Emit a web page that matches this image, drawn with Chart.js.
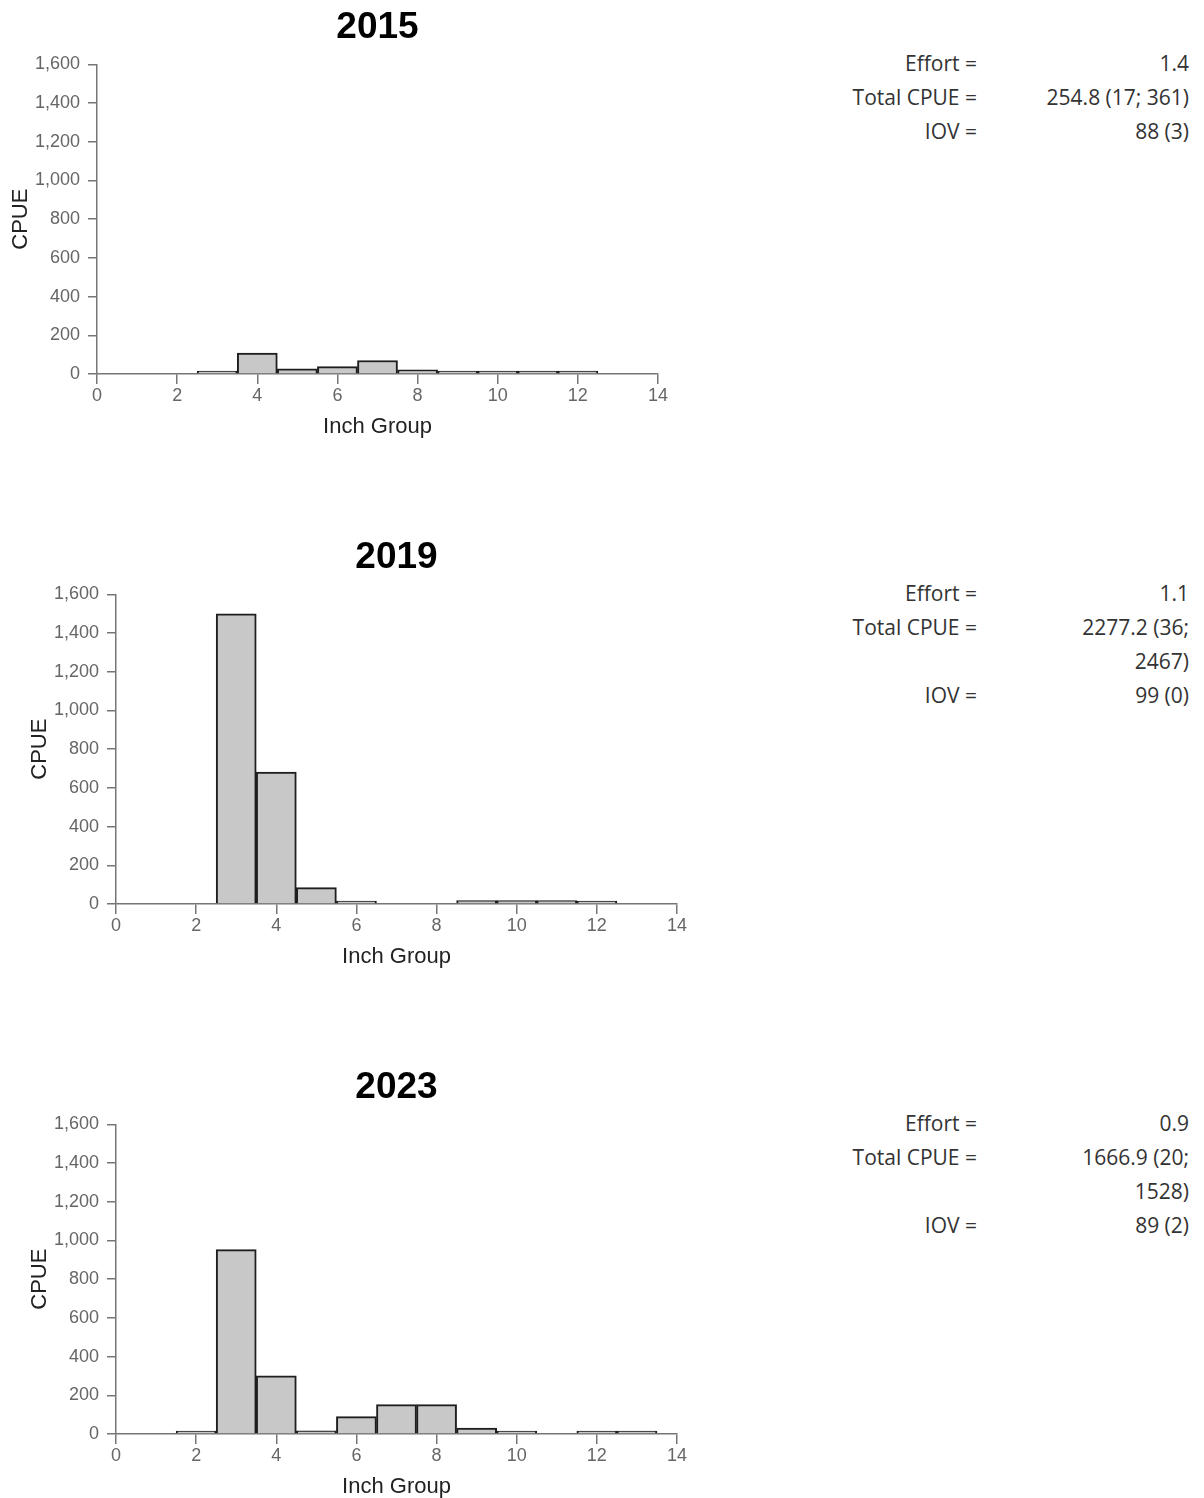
<!DOCTYPE html>
<html>
<head>
<meta charset="utf-8">
<title>CPUE by Inch Group</title>
<script src="https://cdn.jsdelivr.net/npm/chart.js@4.4.1/dist/chart.umd.min.js"></script>
<style>
  html, body { margin: 0; padding: 0; background: #fff; }
  body { position: relative; width: 1204px; height: 1498px; overflow: hidden; }
  .panel { position: absolute; width: 700px; height: 458px; }
  .panel canvas { display: block; }
  .stats {
    position: absolute; left: 820px; width: 369px;
    display: grid; grid-template-columns: 157px 212px;
    font-family: "Open Sans", "Noto Sans", sans-serif; font-size: 21px;
    line-height: 34px; color: #333;
  }
  .stats .k { text-align: right; white-space: nowrap; }
  .stats .v { text-align: right; justify-self: end; max-width: 160px; }
</style>
</head>
<body>
<script>
// Survey years
const years = ['2015', '2019', '2023'];

// Inch groups and CPUE per year
const inch2015 = [3, 4, 5, 6, 7, 8, 9, 10, 11, 12];
const cpue2015 = [5, 108, 27, 38, 70, 22, 3, 5, 5, 3];

const inch2019 = [3, 4, 5, 6, 9, 10, 11, 12];
const cpue2019 = [1500, 682, 85, 8, 18, 18, 18, 8];

const inch2023 = [2, 3, 4, 5, 6, 7, 8, 9, 10, 12, 13];
const cpue2023 = [8, 953, 300, 17, 90, 152, 152, 30, 8, 8, 8];

// Summary statistics per year
const effortText = ['1.4', '1.1', '0.9'];
const totalCpueText = ['254.8 (17; 361)', '2277.2 (36; 2467)', '1666.9 (20; 1528)'];
const iovText = ['88 (3)', '99 (0)', '89 (2)'];

// Axis settings
const xMin = 0, xMax = 14, xStep = 2;
const yMin = 0, yMax = 1600, yStep = 200;

const inchByYear = [inch2015, inch2019, inch2023];
const cpueByYear = [cpue2015, cpue2019, cpue2023];

const PANEL_GAP = 530;
const CANVAS_W = 700, CANVAS_H = 458;
const PAD_LEFT = 10;
const Y_AXIS_WIDTH = 106;
const FONT = '"Liberation Sans", Arial, sans-serif';
const AXIS_GREY = '#767676';

years.forEach((year, i) => {
  const top = i * PANEL_GAP - 10;
  const left = i === 0 ? -19 : 0;

  const wrap = document.createElement('div');
  wrap.className = 'panel';
  wrap.style.top = top + 'px';
  wrap.style.left = left + 'px';
  const canvas = document.createElement('canvas');
  canvas.width = CANVAS_W;
  canvas.height = CANVAS_H;
  canvas.style.width = CANVAS_W + 'px';
  canvas.style.height = CANVAS_H + 'px';
  wrap.appendChild(canvas);
  document.body.appendChild(wrap);

  const points = inchByYear[i].map((x, j) => ({ x: x, y: cpueByYear[i][j] }));

  new Chart(canvas, {
    type: 'bar',
    data: {
      datasets: [{
        data: points,
        backgroundColor: '#c8c8c8',
        borderColor: '#1e1e1e',
        borderWidth: 2,
        borderSkipped: 'start',
        minBarLength: 3,
        barPercentage: 1,
        categoryPercentage: 1
      }]
    },
    options: {
      responsive: false,
      maintainAspectRatio: false,
      animation: false,
      devicePixelRatio: 1,
      layout: { padding: { top: 0, left: PAD_LEFT, right: 23, bottom: 4 } },
      plugins: {
        legend: { display: false },
        tooltip: { enabled: false },
        title: {
          display: true,
          text: year,
          fullSize: false,
          color: '#000',
          font: { family: FONT, size: 37, weight: 'bold', lineHeight: 1.2 },
          padding: { top: 16, bottom: 14 }
        }
      },
      scales: {
        x: {
          type: 'linear',
          min: xMin, max: xMax,
          offset: false,
          ticks: { stepSize: xStep, color: '#666', font: { family: FONT, size: 18 }, padding: 1, maxRotation: 0 },
          grid: { display: true, offset: false, drawOnChartArea: false, drawTicks: true, tickLength: 10, color: AXIS_GREY, lineWidth: 1.5 },
          border: { display: true, color: AXIS_GREY, width: 1.5 },
          title: { display: true, text: 'Inch Group', color: '#222', font: { family: FONT, size: 22, lineHeight: 1.2 }, padding: { top: 6, bottom: 4 } }
        },
        y: {
          min: yMin, max: yMax,
          afterFit: (scale) => { scale.width = Y_AXIS_WIDTH; },
          ticks: { stepSize: yStep, color: '#666', font: { family: FONT, size: 18 }, padding: 8 },
          grid: { display: true, drawOnChartArea: false, drawTicks: true, tickLength: 9, color: AXIS_GREY, lineWidth: 1.5 },
          border: { display: true, color: AXIS_GREY, width: 1.5 },
          title: { display: true, text: 'CPUE', color: '#222', font: { family: FONT, size: 22, lineHeight: 1.2 }, padding: { top: 17, bottom: 0 } }
        }
      }
    }
  });

  // Summary block to the right of each panel
  const stats = document.createElement('div');
  stats.className = 'stats';
  stats.style.top = (i * PANEL_GAP + 46) + 'px';
  const rows = [
    ['Effort =', effortText[i]],
    ['Total CPUE =', totalCpueText[i]],
    ['IOV =', iovText[i]]
  ];
  rows.forEach(([k, v]) => {
    const kd = document.createElement('div');
    kd.className = 'k';
    kd.textContent = k;
    const vd = document.createElement('div');
    vd.className = 'v';
    vd.textContent = v;
    stats.appendChild(kd);
    stats.appendChild(vd);
  });
  document.body.appendChild(stats);
});
</script>
</body>
</html>
